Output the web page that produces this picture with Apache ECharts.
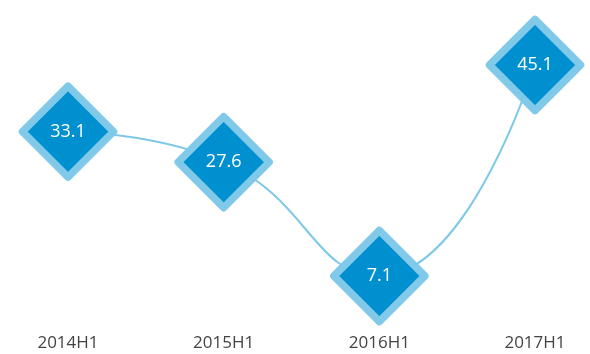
<!DOCTYPE html>
<html><head><meta charset="utf-8">
<script src="https://cdn.jsdelivr.net/npm/echarts@6/dist/echarts.min.js"></script>
<style>html,body{margin:0;padding:0;background:#fff}#c{width:590px;height:354px}</style>
</head><body><div id="c"></div>
<script>
const categories = ['2014H1', '2015H1', '2016H1', '2017H1'];
const values = [33.1, 27.6, 7.1, 45.1];

const chart = echarts.init(document.getElementById('c'), null, {renderer: 'canvas'});
chart.setOption({
  animation: false,
  grid: {left: 68, right: 55, top: 37.8, bottom: 38.6},
  xAxis: {
    type: 'category', data: categories, boundaryGap: false,
    axisLine: {show: false}, axisTick: {show: false}, splitLine: {show: false},
    axisLabel: {color: '#444', fontSize: 17, fontFamily: 'Open Sans', margin: 19}
  },
  yAxis: {type: 'value', min: 0, max: 50, show: false},
  series: [{
    type: 'line', data: values, smooth: true,
    symbol: 'diamond', symbolSize: 91,
    lineStyle: {color: '#7ec8e8', width: 2},
    itemStyle: {color: '#0090d0', borderColor: '#80c9e8', borderWidth: 7.5, borderJoin: 'round'},
    label: {show: true, position: 'inside', color: '#fff', fontSize: 18, fontFamily: 'Open Sans'}
  }]
});
</script></body></html>
